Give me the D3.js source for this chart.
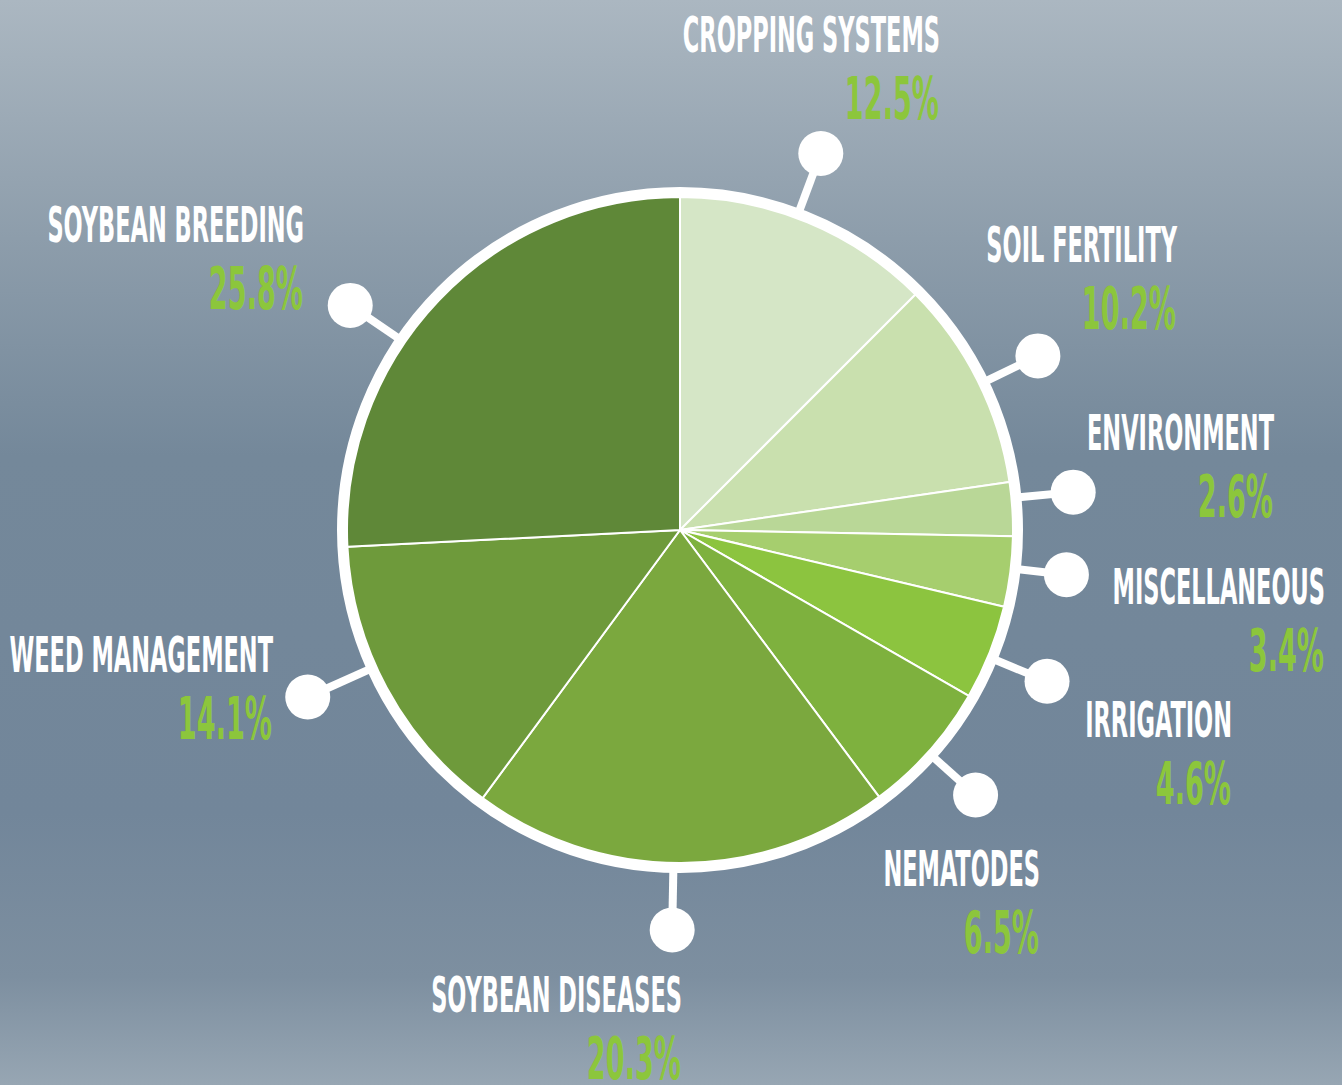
<!DOCTYPE html>
<html>
<head>
<meta charset="utf-8">
<script src="https://cdn.jsdelivr.net/npm/d3@7"></script>
<style>
  html, body { margin: 0; padding: 0; overflow: hidden; }
  svg { display: block; }
  .name { font-family: "DejaVu Sans Condensed", "Liberation Sans Narrow", sans-serif; font-weight: bold; fill: #ffffff; }
  .pct { font-family: "DejaVu Sans Condensed", "Liberation Sans Narrow", sans-serif; font-weight: bold; fill: #8cc63c; }
</style>
</head>
<body>
<script>
(function(){

//chart data
var categories = ["CROPPING SYSTEMS", "SOIL FERTILITY", "ENVIRONMENT", "MISCELLANEOUS", "IRRIGATION",
                  "NEMATODES", "SOYBEAN DISEASES", "WEED MANAGEMENT", "SOYBEAN BREEDING"];
var shares = [12.5, 10.2, 2.6, 3.4, 4.6, 6.5, 20.3, 14.1, 25.8];
var percentLabels = ["12.5%", "10.2%", "2.6%", "3.4%", "4.6%", "6.5%", "20.3%", "14.1%", "25.8%"];

//slice colours, light to dark going clockwise
var sliceColors = ["#d5e6c6", "#c9e0ae", "#b9d797", "#a6ce6e", "#8cc43f",
                   "#7eb13e", "#7ba83e", "#6e9a3b", "#5f8838"];

//callout layout: angle nudge (deg) from slice middle, dot distance from centre,
//and label anchor (right edge, name baseline)
var calloutNudge = [-2.0, 0.7, -1.9, -0.6, 0.8, 0.3, 1.3, 4.1, -9.3];
var calloutDist = [402, 398, 395, 389, 397, 397, 400, 408, 399];
var labelAnchor = [[940, 52], [1177, 262], [1274, 450], [1325, 604], [1232, 737],
                   [1040, 886], [682, 1012], [273, 672], [304, 242]];

window.onload = drawChart;

function drawChart(){
    var width = 1342,
        height = 1085,
        cx = 680,
        cy = 530,
        radius = 333;

    var svg = d3.select("body")
        .append("svg")
        .attr("width", width)
        .attr("height", height);

    //background gradient
    var grad = svg.append("defs")
        .append("linearGradient")
        .attr("id", "bg")
        .attr("x1", 0).attr("y1", 0)
        .attr("x2", 0).attr("y2", 1);
    [[0, "#abb7c1"], [0.22, "#8d9dab"], [0.42, "#74889a"], [0.75, "#72869a"], [0.9, "#7d8fa0"], [1, "#97a6b3"]]
        .forEach(function(s){
            grad.append("stop").attr("offset", s[0]).attr("stop-color", s[1]);
        });
    svg.append("rect")
        .attr("width", width)
        .attr("height", height)
        .attr("fill", "url(#bg)");

    var pie = d3.pie()
        .sort(null)
        .value(function(d){ return d; });
    var arcs = pie(shares);

    var arc = d3.arc()
        .innerRadius(0)
        .outerRadius(radius);

    var g = svg.append("g")
        .attr("transform", "translate(" + cx + "," + cy + ")");

    //callout stems and dots (drawn under the ring)
    var callouts = g.selectAll(".callout")
        .data(arcs)
        .enter()
        .append("g")
        .attr("class", "callout");

    function calloutAngle(d, i){
        return (d.startAngle + d.endAngle) / 2 + calloutNudge[i] * Math.PI / 180;
    }

    callouts.append("line")
        .attr("x1", function(d, i){ return Math.sin(calloutAngle(d, i)) * (radius + 5); })
        .attr("y1", function(d, i){ return -Math.cos(calloutAngle(d, i)) * (radius + 5); })
        .attr("x2", function(d, i){ return Math.sin(calloutAngle(d, i)) * calloutDist[i]; })
        .attr("y2", function(d, i){ return -Math.cos(calloutAngle(d, i)) * calloutDist[i]; })
        .attr("stroke", "#ffffff")
        .attr("stroke-width", 8);

    callouts.append("circle")
        .attr("cx", function(d, i){ return Math.sin(calloutAngle(d, i)) * calloutDist[i]; })
        .attr("cy", function(d, i){ return -Math.cos(calloutAngle(d, i)) * calloutDist[i]; })
        .attr("r", 22.5)
        .attr("fill", "#ffffff");

    //slices
    g.selectAll(".slice")
        .data(arcs)
        .enter()
        .append("path")
        .attr("class", "slice")
        .attr("d", arc)
        .attr("fill", function(d, i){ return sliceColors[i]; })
        .attr("stroke", "#ffffff")
        .attr("stroke-width", 2)
        .attr("stroke-linejoin", "round");

    //outer white ring
    g.append("circle")
        .attr("r", radius + 5)
        .attr("fill", "none")
        .attr("stroke", "#ffffff")
        .attr("stroke-width", 10);

    //labels
    var labels = svg.selectAll(".label")
        .data(categories)
        .enter()
        .append("g")
        .attr("class", "label");

    labels.append("text")
        .attr("class", "name")
        .attr("text-anchor", "end")
        .attr("font-size", 49)
        .attr("transform", function(d, i){
            return "translate(" + labelAnchor[i][0] + "," + labelAnchor[i][1] + ") scale(0.51,1)";
        })
        .text(function(d){ return d; });

    labels.append("text")
        .attr("class", "pct")
        .attr("text-anchor", "end")
        .attr("font-size", 58)
        .attr("transform", function(d, i){
            return "translate(" + (labelAnchor[i][0] - 1) + "," + (labelAnchor[i][1] + 67) + ") scale(0.52,1)";
        })
        .text(function(d, i){ return percentLabels[i]; });
}

})();
</script>
</body>
</html>
